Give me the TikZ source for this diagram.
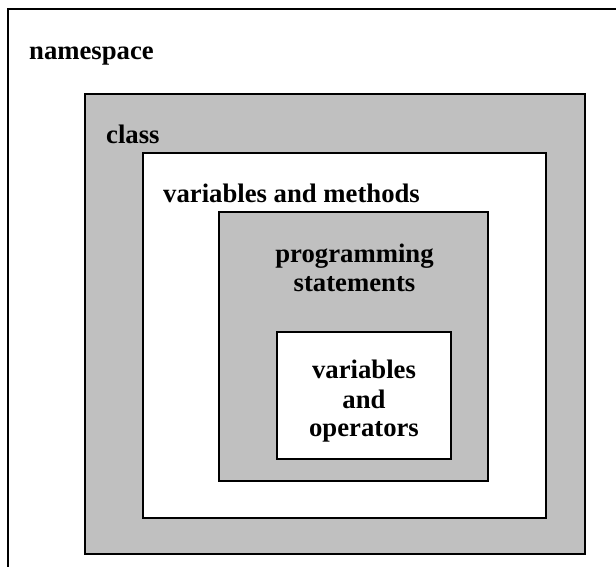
\documentclass[tikz,border=0pt]{standalone}
\usepackage{fontspec}
\setmainfont{Liberation Serif}
\definecolor{boxgray}{HTML}{C0C0C0}
\begin{document}
\begin{tikzpicture}[x=1pt,y=-1pt,
  frame/.style={draw=black,line width=1.3pt},
  grayframe/.style={frame,fill=boxgray},
  whiteframe/.style={frame,fill=white},
  lbl/.style={inner sep=0pt,font=\fontsize{26.7}{30}\selectfont\bfseries,anchor=base},
  lblw/.style={lbl,anchor=base west}]
\clip (0,0) rectangle (616,567);
\fill[white] (0,0) rectangle (616,567);
% outer namespace box (right and bottom edges fall outside)
\draw[frame] (8,9) rectangle (640,600);
\draw[grayframe] (85,94) rectangle (585,554);
\draw[whiteframe] (143,153) rectangle (546,518);
\draw[grayframe] (219,212) rectangle (488,481);
\draw[whiteframe] (277,332) rectangle (451,459);
\node[lblw] (ns) at (29,59.3) {namespace};
\node[lblw] (cls) at (106,143.3) {class};
\node[lblw] (vm) at (163,203) {variables and methods};
\node[lbl] (ps1) at (354.5,262) {programming};
\node[lbl] (ps2) at (354.5,291.7) {statements};
\node[lbl] (vo1) at (364,378) {variables};
\node[lbl] (vo2) at (364,408) {and};
\node[lbl] (vo3) at (364,436.7) {operators};
\end{tikzpicture}
\end{document}
